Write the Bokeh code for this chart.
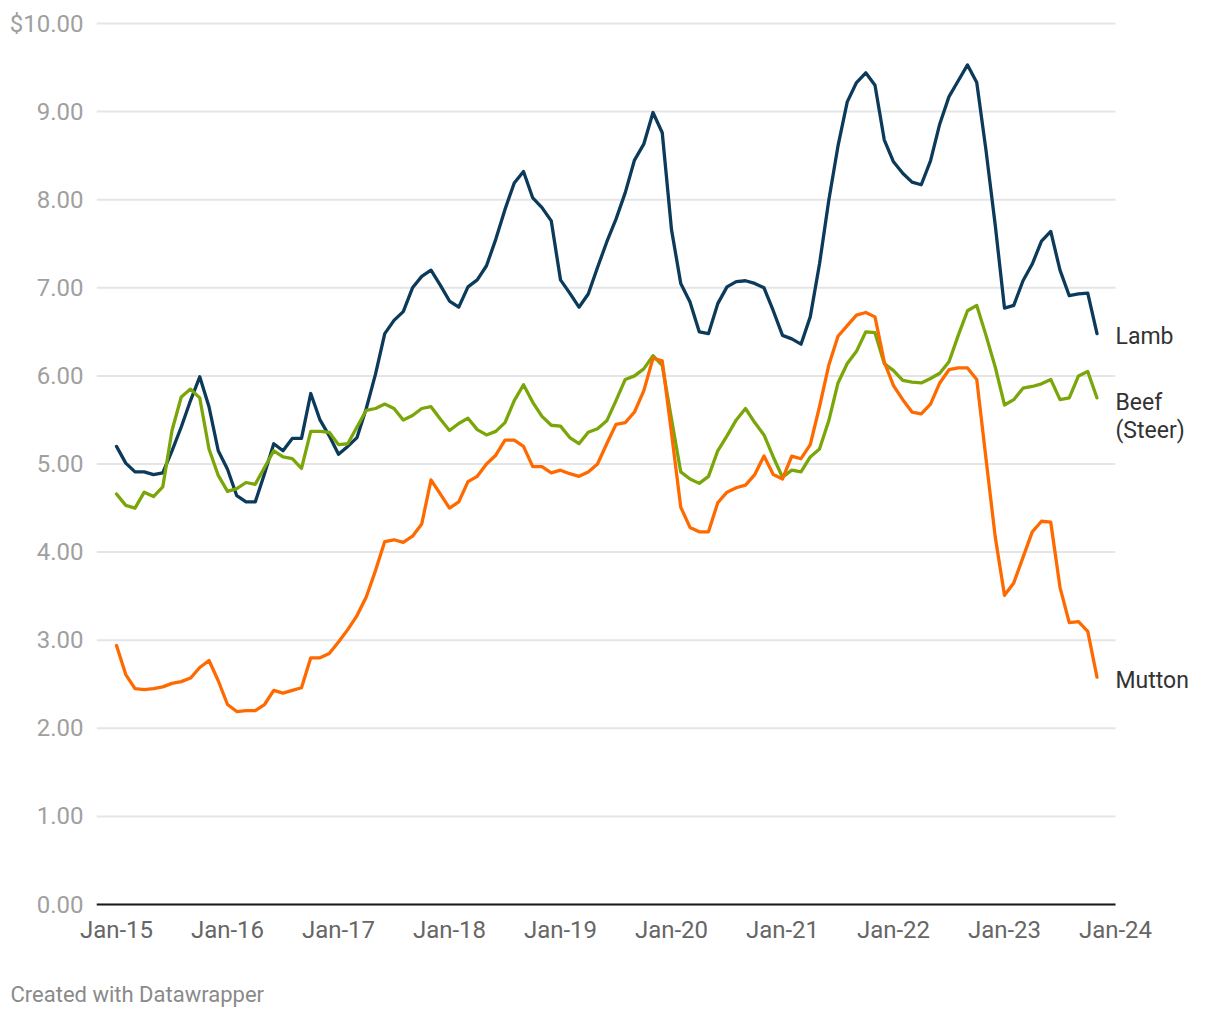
from bokeh.plotting import figure
from bokeh.models import Range1d, FixedTicker, Label, Title
from bokeh.embed import file_html
from bokeh.resources import INLINE

# ---- data (monthly, Jan-2015 .. Nov-2023), $ ----
lamb = [5.20, 5.01, 4.91, 4.91, 4.88, 4.90, 5.15, 5.42, 5.72, 5.99, 5.65, 5.15,
        4.94, 4.64, 4.57, 4.57, 4.89, 5.23, 5.15, 5.29, 5.29, 5.80, 5.50, 5.32,
        5.11, 5.20, 5.30, 5.63, 6.02, 6.48, 6.63, 6.73, 7.00, 7.13, 7.20, 7.03,
        6.85, 6.78, 7.01, 7.09, 7.25, 7.55, 7.89, 8.19, 8.32, 8.02, 7.91, 7.76,
        7.09, 6.94, 6.78, 6.93, 7.23, 7.52, 7.78, 8.08, 8.45, 8.63, 8.99, 8.76,
        7.66, 7.05, 6.84, 6.50, 6.48, 6.82, 7.01, 7.07, 7.08, 7.05, 7.00, 6.74,
        6.46, 6.42, 6.36, 6.67, 7.27, 7.99, 8.61, 9.11, 9.33, 9.44, 9.30, 8.68,
        8.43, 8.30, 8.20, 8.17, 8.44, 8.86, 9.17, 9.35, 9.53, 9.33, 8.56, 7.71,
        6.77, 6.80, 7.08, 7.27, 7.53, 7.64, 7.20, 6.91, 6.93, 6.94, 6.48]

beef = [4.66, 4.53, 4.50, 4.68, 4.63, 4.74, 5.38, 5.76, 5.85, 5.75, 5.17, 4.87,
        4.69, 4.72, 4.79, 4.77, 4.96, 5.15, 5.08, 5.06, 4.95, 5.37, 5.37, 5.36,
        5.22, 5.23, 5.42, 5.61, 5.63, 5.68, 5.63, 5.50, 5.55, 5.63, 5.65, 5.51,
        5.38, 5.46, 5.52, 5.39, 5.33, 5.37, 5.47, 5.72, 5.90, 5.70, 5.54, 5.44,
        5.43, 5.30, 5.23, 5.36, 5.40, 5.49, 5.72, 5.96, 6.00, 6.08, 6.23, 6.12,
        5.51, 4.91, 4.83, 4.78, 4.86, 5.15, 5.32, 5.50, 5.63, 5.47, 5.33, 5.08,
        4.85, 4.93, 4.91, 5.08, 5.17, 5.49, 5.92, 6.14, 6.28, 6.50, 6.49, 6.14,
        6.06, 5.95, 5.93, 5.92, 5.97, 6.03, 6.16, 6.46, 6.74, 6.80, 6.46, 6.10,
        5.67, 5.73, 5.86, 5.88, 5.91, 5.96, 5.73, 5.75, 6.00, 6.05, 5.75]

mutton = [2.94, 2.61, 2.45, 2.44, 2.45, 2.47, 2.51, 2.53, 2.57, 2.69, 2.77, 2.54,
          2.27, 2.19, 2.20, 2.20, 2.27, 2.43, 2.40, 2.43, 2.46, 2.80, 2.80, 2.85,
          2.98, 3.12, 3.28, 3.49, 3.79, 4.12, 4.14, 4.11, 4.18, 4.32, 4.82, 4.66,
          4.50, 4.57, 4.80, 4.86, 5.00, 5.10, 5.27, 5.27, 5.20, 4.97, 4.97, 4.90,
          4.93, 4.89, 4.86, 4.91, 5.00, 5.23, 5.45, 5.47, 5.59, 5.83, 6.20, 6.17,
          5.35, 4.51, 4.28, 4.23, 4.23, 4.56, 4.68, 4.73, 4.76, 4.88, 5.09, 4.88,
          4.83, 5.09, 5.06, 5.22, 5.65, 6.12, 6.45, 6.57, 6.69, 6.72, 6.67, 6.16,
          5.89, 5.73, 5.59, 5.57, 5.68, 5.92, 6.07, 6.09, 6.09, 5.96, 5.06, 4.17,
          3.51, 3.65, 3.94, 4.23, 4.35, 4.34, 3.60, 3.20, 3.21, 3.10, 2.58]

x_tick_months = [0, 12, 24, 36, 48, 60, 72, 84, 96, 108]
x_tick_labels = ["Jan-15", "Jan-16", "Jan-17", "Jan-18", "Jan-19",
                 "Jan-20", "Jan-21", "Jan-22", "Jan-23", "Jan-24"]
y_ticks = [0, 1, 2, 3, 4, 5, 6, 7, 8, 9, 10]
y_tick_labels = ["0.00", "1.00", "2.00", "3.00", "4.00", "5.00",
                 "6.00", "7.00", "8.00", "9.00", "$10.00"]

series = [("Lamb", lamb, "#0b3a5a"),
          ("Beef (Steer)", beef, "#7aa60a"),
          ("Mutton", mutton, "#ff6a00")]

# ---- layout constants (pixels) ----
W, H = 1210, 1016
PX_X = 9.25    # px per month
PX_Y = 88.1    # px per dollar
FONT = "Roboto"
X0 = -20 / PX_X                 # frame left, 20 px before Jan-15
X1 = (W - 116) / PX_X           # frame extends to right edge (room for labels)
X_END = x_tick_months[-1]       # grid ends at last tick

p = figure(width=W, height=H, output_backend="svg", toolbar_location=None,
           x_range=Range1d(X0, X1), y_range=Range1d(-9 / PX_Y, 10 + 9 / PX_Y),
           min_border_left=96, min_border_right=0, min_border_top=14,
           min_border_bottom=H - 913)
p.outline_line_color = None
p.background_fill_color = "white"
p.border_fill_color = "white"
p.xgrid.visible = False
p.ygrid.visible = False

# horizontal gridlines (stop at last x tick) and the zero baseline
p.segment(x0=[X0] * len(y_ticks), y0=y_ticks, x1=[X_END] * len(y_ticks), y1=y_ticks,
          line_color="#e5e5e5", line_width=2)
p.segment(x0=[X0], y0=[0], x1=[X_END], y1=[0], line_color="#1a1a1a", line_width=2)

for ax in (p.xaxis[0], p.yaxis[0]):
    ax.axis_line_color = None
    ax.major_tick_line_color = None
    ax.minor_tick_line_color = None
    ax.major_tick_out = 0
    ax.major_tick_in = 0
    ax.major_label_text_font = FONT
    ax.major_label_text_font_size = "24px"

p.xaxis.ticker = FixedTicker(ticks=x_tick_months)
p.xaxis.major_label_overrides = dict(zip(x_tick_months, x_tick_labels))
p.xaxis.major_label_text_color = "#666666"
p.xaxis.major_label_standoff = 2

p.yaxis.ticker = FixedTicker(ticks=y_ticks)
p.yaxis.major_label_overrides = dict(zip(y_ticks, y_tick_labels))
p.yaxis.major_label_text_color = "#a0a0a0"
p.yaxis.major_label_standoff = 13

for name, vals, color in series:
    p.line(list(range(len(vals))), vals, line_width=3.3, line_color=color,
           line_join="round", line_cap="round")

# direct labels at the right edge
def add_label(text, y):
    p.add_layout(Label(x=X_END, y=y, text=text, text_align="left",
                       text_baseline="middle", text_font=FONT,
                       text_font_size="23px", text_color="#333333"))

add_label("Lamb", lamb[-1] - 3 / PX_Y)
add_label("Beef", beef[-1] - 5 / PX_Y)
add_label("(Steer)", beef[-1] - 33 / PX_Y)
add_label("Mutton", mutton[-1] - 3 / PX_Y)

cap = Title(text="\nCreated with Datawrapper", align="left", text_font=FONT,
            text_font_size="22px", text_color="#8a8a8a", text_font_style="normal",
            offset=-86, vertical_align="bottom")
try:
    cap.standoff = 16
except Exception:
    pass
p.add_layout(cap, "below")

open("out.html", "w").write(file_html(p, INLINE))
